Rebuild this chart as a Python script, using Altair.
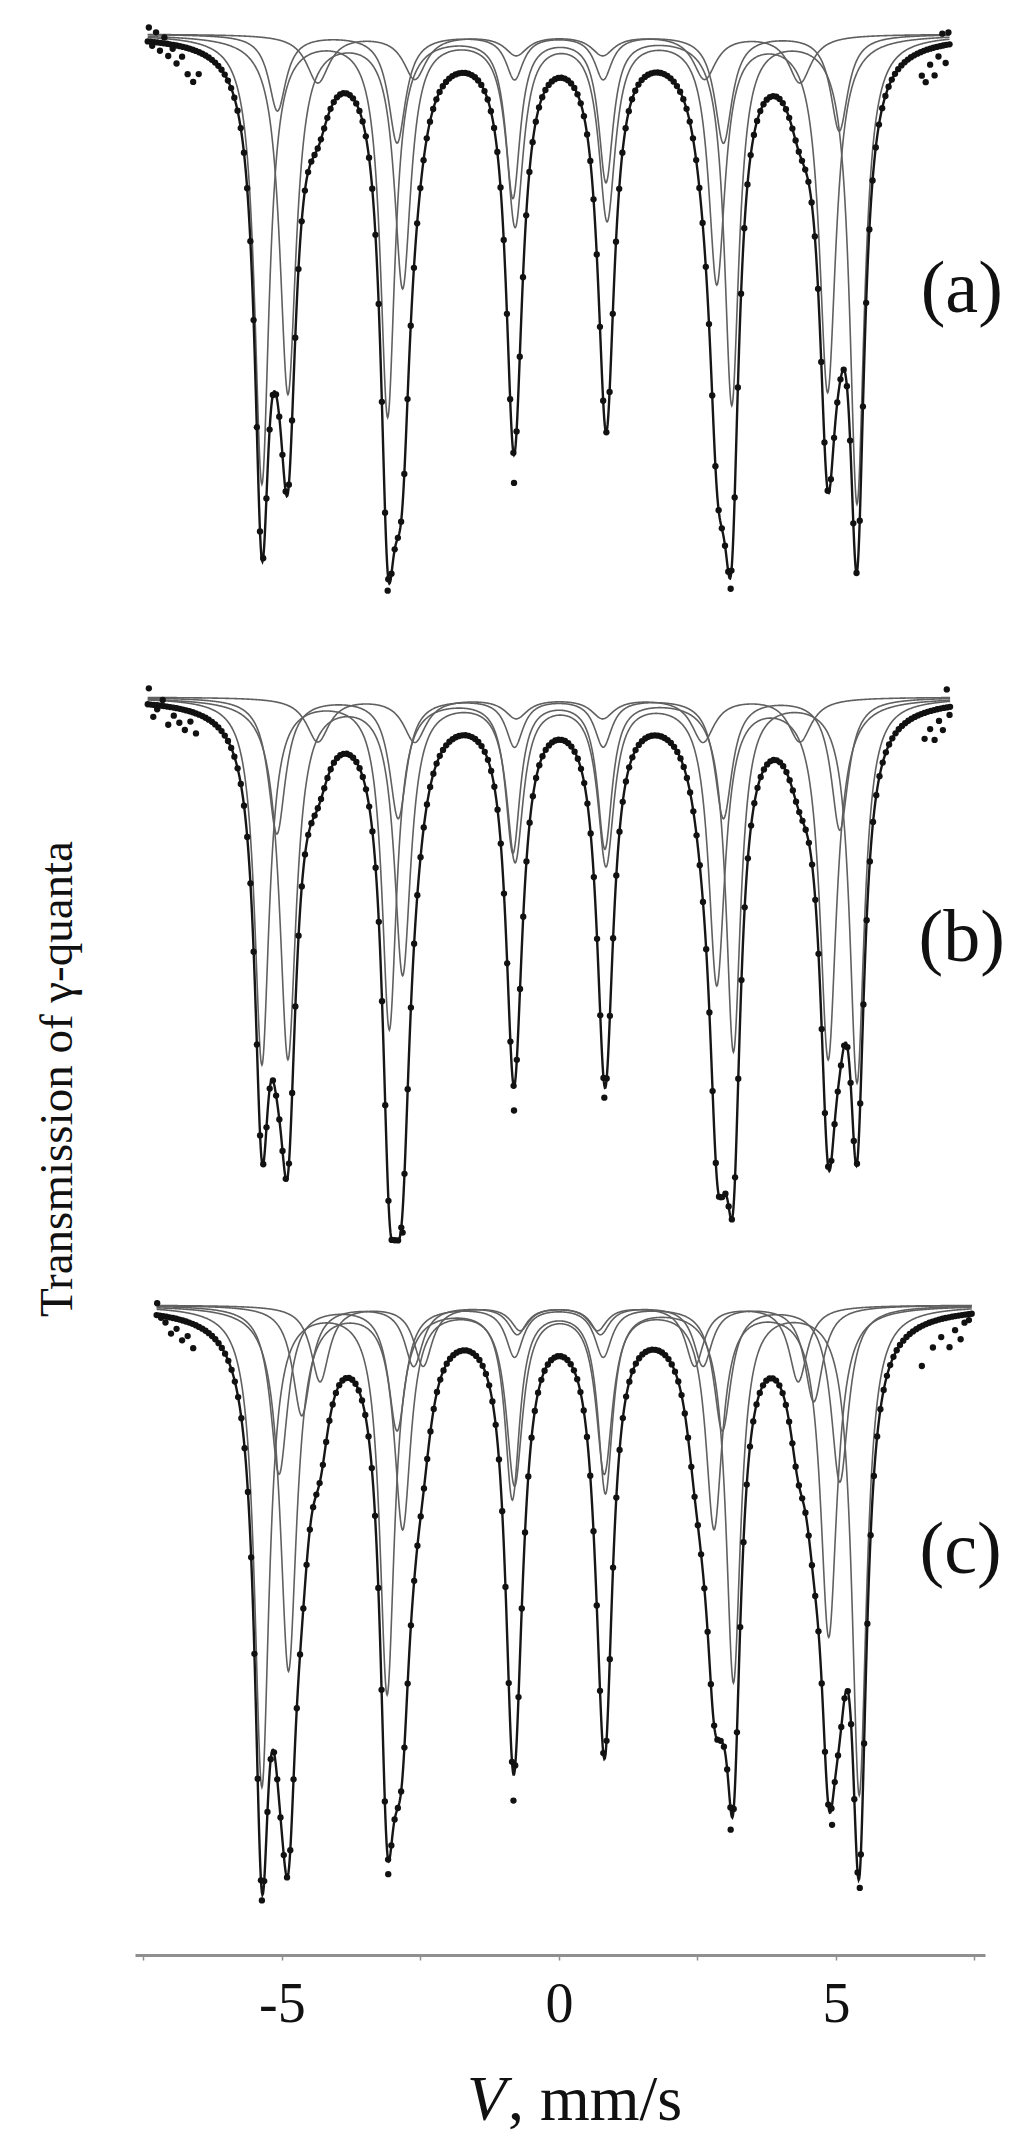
import numpy as np
import pandas as pd
import altair as alt

# ---------------- data ----------------
# velocity range of the measured channels in every panel (mm/s)
chan_range = {"a": (-7.42, 7.05), "b": (-7.42, 7.06), "c": (-7.26, 7.45)}
n_channels = 251
# vertical stacking offsets of the three spectra (% of transmission)
panel_shift = {"a": 0.0, "b": 33.15, "c": 63.55}
panel_names = ["(a)", "(b)", "(c)"]
label_v = [7.27, 7.27, 7.25]
label_depth = [12.8, 12.1, 12.3]

# sextet components: line positions (mm/s), line depths (% absorption), FWHM (mm/s)
a_pos = [[-5.36, -3.09, -0.83, 0.85, 3.12, 5.38],
         [-4.89, -2.82, -0.79, 0.87, 2.85, 4.85],
         [-5.08, -2.92, -0.80, 0.80, 2.97, 5.06],
         [-4.35, -2.60, -0.77, 0.79, 2.63, 4.35]]
a_dep = [[22.4, 19.0, 8.0, 7.2, 18.4, 23.4],
         [17.9, 12.5, 9.4, 9.1, 12.3, 17.8],
         [3.8, 5.4, 2.2, 2.2, 5.4, 4.8],
         [2.4, 2.2, 1.0, 1.0, 2.2, 2.4]]
a_fwhm = [0.32, 0.36, 0.38, 0.50]

b_pos = [[-5.36, -3.06, -0.83, 0.83, 3.15, 5.38],
         [-4.89, -2.82, -0.79, 0.85, 2.85, 4.86],
         [-5.09, -2.90, -0.80, 0.80, 2.97, 5.07],
         [-4.35, -2.60, -0.77, 0.79, 2.60, 4.35]]
b_dep = [[18.3, 16.5, 7.6, 7.4, 17.6, 19.2],
         [18.0, 13.7, 8.0, 8.2, 14.2, 18.0],
         [6.8, 6.0, 2.4, 2.4, 6.0, 6.6],
         [2.2, 2.2, 1.0, 1.0, 2.2, 2.2]]
b_fwhm = [0.32, 0.36, 0.38, 0.50]

c_pos = [[-5.36, -3.10, -0.84, 0.84, 3.15, 5.42],
         [-4.88, -2.82, -0.80, 0.82, 2.80, 4.87],
         [-5.05, -2.92, -0.80, 0.80, 2.95, 5.07],
         [-4.64, -2.62, -0.75, 0.75, 2.60, 4.60],
         [-4.31, -2.45, -0.70, 0.70, 2.45, 4.32]]
c_dep = [[24.0, 19.3, 9.5, 9.2, 18.7, 24.4],
         [18.2, 11.0, 8.8, 8.2, 11.0, 16.5],
         [8.4, 6.2, 2.5, 2.5, 6.2, 8.8],
         [5.5, 3.0, 1.4, 1.4, 3.0, 4.8],
         [3.8, 3.0, 1.2, 1.2, 3.0, 3.8]]
c_fwhm = [0.32, 0.36, 0.38, 0.40, 0.40]

# measured points lying visibly off the fitted envelope:
# velocity (mm/s) and extra depth below the envelope (%; negative = above)
a_off_v = [-3.09, -0.81, 3.10,
           -7.40, -7.34, -7.27, -7.20, -7.12, -7.05, -6.97, -6.90, -6.80, -6.70, -6.60, -6.50,
           6.55, 6.62, 6.70, 6.78, 6.85, 6.92, 6.98, 7.03]
a_off_d = [0.9, 1.4, 0.6,
           -0.7, 0.2, -0.5, 0.4, -0.3, 0.6, 0.2, 0.9, 0.5, 1.3, 1.6, 1.1,
           1.2, 1.6, 0.8, 1.4, 0.5, -0.6, 0.9, -0.6]
b_off_v = [-2.82, -0.81, 0.82,
           -7.40, -7.32, -7.25, -7.15, -7.05, -6.95, -6.85, -6.75, -6.65, -6.55,
           6.60, 6.70, 6.78, 6.86, 6.93, 7.00, 7.05]
b_off_d = [1.1, 1.2, 0.6,
           -0.8, 0.6, 0.2, -0.3, 0.9, 0.4, 0.7, 1.0, 0.5, 1.0,
           1.3, 0.9, 1.5, 0.6, 1.1, -0.9, 0.4]
c_off_v = [-5.36, -3.08, -0.82, 3.10, 4.93, 5.43,
           -7.25, -7.18, -7.10, -7.00, -6.90, -6.80, -6.70, -6.60,
           6.55, 6.75, 6.90, 7.05, 7.15, 7.25, 7.32, 7.40]
c_off_d = [0.4, 0.7, 1.3, 1.0, 1.0, 0.7,
           -0.6, 0.1, 0.3, 0.8, 0.5, 1.0, 0.7, 1.2,
           2.0, 1.3, 0.9, 1.5, 0.7, 1.2, 0.4, 0.3]

tick_values = [-7.5, -5, -2.5, 0, 2.5, 5, 7.5]

# ---------------- build tables ----------------
params = {"a": (a_pos, a_dep, a_fwhm), "b": (b_pos, b_dep, b_fwhm), "c": (c_pos, c_dep, c_fwhm)}
offs = {"a": (a_off_v, a_off_d), "b": (b_off_v, b_off_d), "c": (c_off_v, c_off_d)}


def sextet(v, pos, dep, w):
    out = np.zeros_like(v)
    for p, d in zip(pos, dep):
        out += d / (1.0 + ((v - p) / (w / 2.0)) ** 2)
    return out


def envelope(v, key):
    pos, dep, fw = params[key]
    t = np.zeros_like(v)
    for p, d, w in zip(pos, dep, fw):
        t += sextet(v, p, d, w)
    return t


curve_rows, comp_rows, dot_rows = [], [], []
for key in ["a", "b", "c"]:
    pos, dep, fw = params[key]
    lo, hi = chan_range[key]
    sh = panel_shift[key]
    v = np.arange(lo, hi + 1e-9, 0.01)
    for i, (p, d, w) in enumerate(zip(pos, dep, fw)):
        s = sextet(v, p, d, w)
        for vv, ss in zip(v, s):
            comp_rows.append({"v": vv, "T": 100 - ss - sh, "id": f"{key}{i}"})
    total = envelope(v, key)
    for vv, tt in zip(v, total):
        curve_rows.append({"v": vv, "T": 100 - tt - sh, "id": key})
    vc = np.linspace(lo, hi, n_channels)
    tc = envelope(vc, key)
    for vv, tt in zip(vc, tc):
        dot_rows.append({"v": vv, "T": 100 - tt - sh, "id": key})
    ov, od = offs[key]
    ov = np.array(ov, dtype=float)
    te = envelope(ov, key)
    for vv, tt, dd in zip(ov, te, od):
        dot_rows.append({"v": vv, "T": 100 - tt - dd - sh, "id": key})

comp_df = pd.DataFrame(comp_rows)
curve_df = pd.DataFrame(curve_rows)
dot_df = pd.DataFrame(dot_rows)
lab_df = pd.DataFrame({
    "label": panel_names,
    "v": label_v,
    "T": [100 - panel_shift[k] - d for k, d in zip(["a", "b", "c"], label_depth)],
})

W, H = 850, 1935
x_scale = alt.Scale(domain=[-7.65, 7.69], nice=False, zero=False)
y_scale = alt.Scale(domain=[100.7 - H / 20.0, 100.7], nice=False, zero=False)

x_axis = alt.Axis(
    values=tick_values,
    labelExpr="datum.value % 5 == 0 ? '' + datum.value : ''",
    title="",
    grid=False,
    domain=True,
    ticks=True,
    domainColor="#8f8f8f",
    domainWidth=3,
    tickColor="#8f8f8f",
    tickWidth=1.5,
    tickSize=5,
    labelFont="Liberation Serif",
    labelFontSize=56,
    labelColor="#111111",
    labelPadding=17,
)

comps = alt.Chart(comp_df).mark_line(color="#606060", strokeWidth=1.6).encode(
    x=alt.X("v:Q", scale=x_scale, axis=x_axis),
    y=alt.Y("T:Q", scale=y_scale, axis=None),
    detail="id:N",
)
env = alt.Chart(curve_df).mark_line(color="#161616", strokeWidth=2.4).encode(
    x=alt.X("v:Q", scale=x_scale, axis=x_axis),
    y=alt.Y("T:Q", scale=y_scale, axis=None),
    detail="id:N",
)
dots = alt.Chart(dot_df).mark_circle(color="#111111", size=40, opacity=1).encode(
    x=alt.X("v:Q", scale=x_scale, axis=x_axis),
    y=alt.Y("T:Q", scale=y_scale, axis=None),
)
labels = alt.Chart(lab_df).mark_text(
    font="Liberation Serif", fontSize=74, color="#111111", align="center", baseline="middle"
).encode(
    x=alt.X("v:Q", scale=x_scale, axis=x_axis),
    y=alt.Y("T:Q", scale=y_scale, axis=None),
    text="label:N",
)

ytitle = alt.Chart(pd.DataFrame({"t": ["Transmission of γ-quanta"]})).mark_text(
    font="Liberation Serif", fontSize=47, color="#111111", angle=270,
    align="center", baseline="middle",
).encode(x=alt.value(-77), y=alt.value(1059), text="t:N")

xt_v = alt.Chart(pd.DataFrame({"t": ["V"]})).mark_text(
    font="Liberation Serif", fontSize=64, fontStyle="italic", color="#111111",
    align="right", baseline="alphabetic",
).encode(x=alt.value(371), y=alt.value(2100), text="t:N")
xt_rest = alt.Chart(pd.DataFrame({"t": [", mm/s"]})).mark_text(
    font="Liberation Serif", fontSize=64, color="#111111",
    align="left", baseline="alphabetic",
).encode(x=alt.value(373), y=alt.value(2100), text="t:N")

chart = alt.layer(comps, env, dots, labels, ytitle, xt_v, xt_rest).properties(
    width=W, height=H,
    autosize=alt.AutoSizeParams(type="none"),
    padding={"left": 127, "top": 12, "right": 27, "bottom": 180},
).configure(background="white").configure_view(
    stroke=None, strokeWidth=0, strokeOpacity=0
).configure_axisY(
    disable=True
).configure_axisLeft(
    domain=False, ticks=False, grid=False, labels=False
)

chart.save("out.html", embed_options={"renderer": "svg", "actions": False})
